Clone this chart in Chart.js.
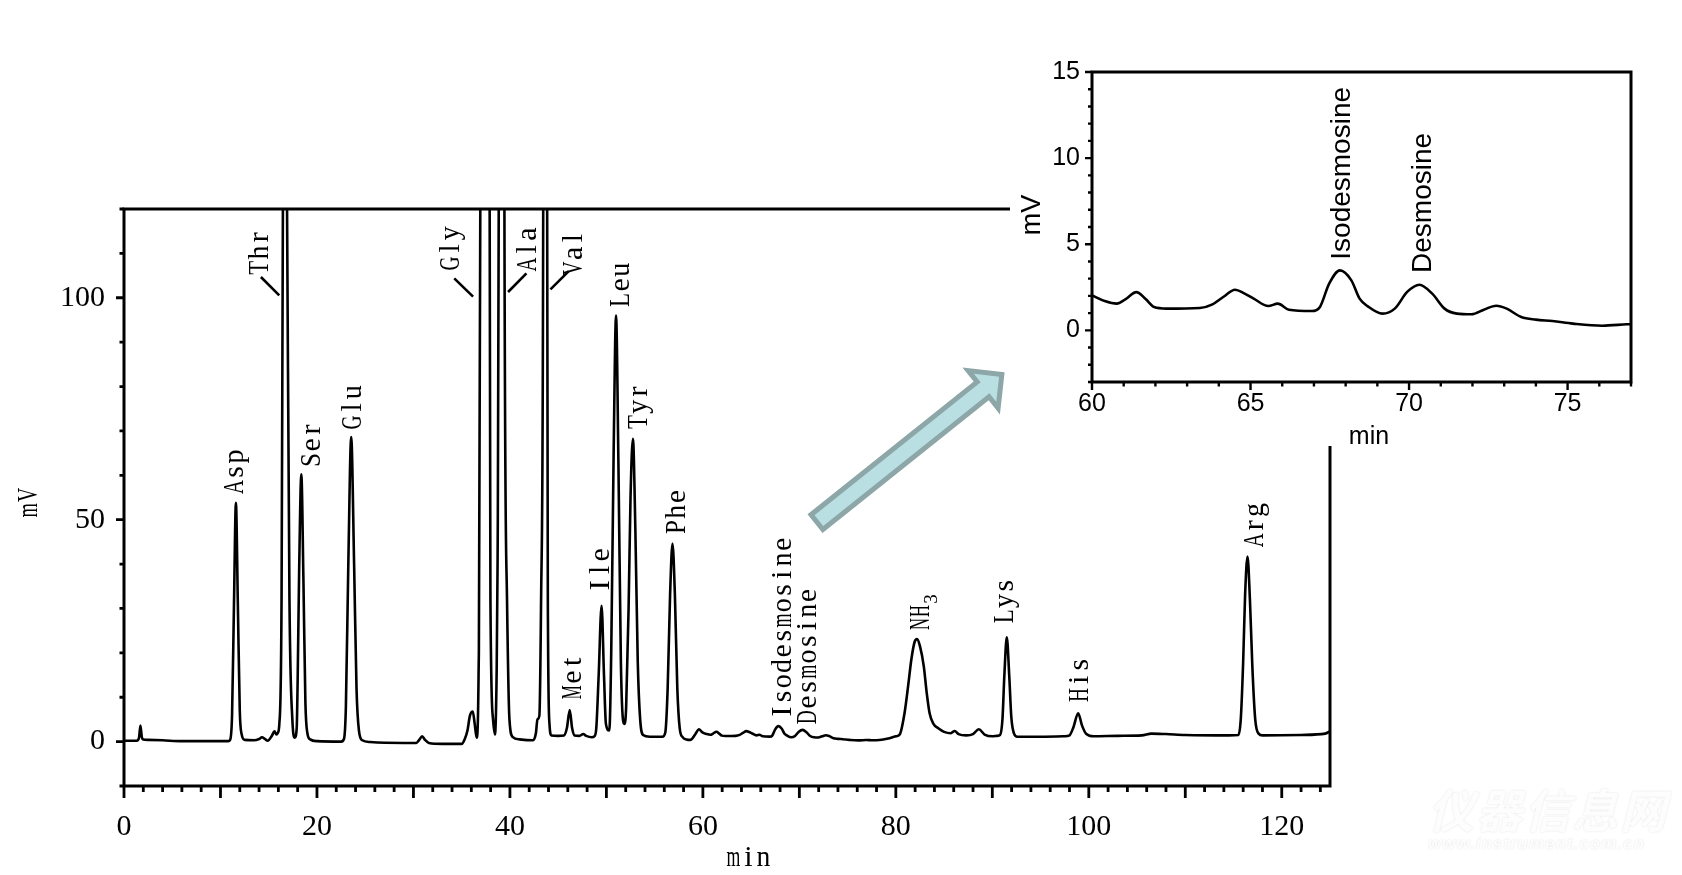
<!DOCTYPE html>
<html>
<head>
<meta charset="utf-8">
<title>Amino acid chromatogram</title>
<script src="https://cdn.jsdelivr.net/npm/chart.js@4.4.1/dist/chart.umd.min.js"></script>
<style>
  html, body { margin: 0; padding: 0; background: #fff; }
  #wrap { position: relative; width: 1682px; height: 875px; overflow: hidden; background: #fff; }
  #main { position: absolute; left: 0; top: 0; }
  #zoom { position: absolute; left: 1010px; top: 0; }
  #mark { position: absolute; left: 1428px; top: 782px; color: #fdfdfd;
          font: italic bold 46px "Noto Sans CJK SC", sans-serif; letter-spacing: 2px;
          text-shadow: 0 0 2px rgba(0,0,0,0.13); line-height: 52px; }
  #mark small { display: block; font: italic bold 17px "Liberation Sans", sans-serif;
                letter-spacing: 1px; line-height: 20px; }
</style>
</head>
<body>
<div id="wrap">
  <canvas id="main" width="1682" height="875"></canvas>
  <div id="mark">仪器信息网<small>www.instrument.com.cn</small></div>
  <canvas id="zoom" width="672" height="446"></canvas>
</div>
<script>
// chromatogram: [min, mV]
const traceStart = [
  [0, 0.2], [1.3, 0.2], [1.55, 0.8], [1.7, 3.6], [1.85, 1.0], [2.0, 0.5], [2.5, 0.4], [4.0, 0.3], [6.0, 0.1], [10.8, 0.1],
  [11.0, 0.4], [11.2, 6], [11.4, 31], [11.6, 53.8], [11.8, 31], [12.0, 7], [12.2, 1.6], [12.5, 0.4], [13.5, 0.3],
  [14.0, 0.6], [14.3, 1.0], [14.6, 0.6], [14.9, 0.2], [15.3, 1.2], [15.6, 2.3], [15.8, 1.6], [15.95, 2.0],
  [16.1, 4], [16.33, 32], [16.47, 120], [16.68, 185], [16.9, 120], [17.15, 32], [17.45, 5], [17.7, 0.9],
  [17.9, 3], [18.0, 14], [18.15, 38], [18.38, 60.2], [18.6, 36], [18.8, 9], [19.0, 2], [19.3, 0.5], [20.0, 0.1], [22.5, 0.0],
  [22.8, 0.6], [23.0, 8], [23.25, 40], [23.55, 68.6], [23.85, 40], [24.1, 12], [24.35, 2.5], [24.7, 0.3], [25.5, -0.1],
  [29.0, -0.3], [30.3, -0.3], [30.6, 0.4], [30.9, 1.2], [31.2, 0.4], [31.6, -0.3], [33.0, -0.5], [35.0, -0.5],
  [35.3, 0.5], [35.6, 2.5], [35.85, 5.8], [36.15, 6.8], [36.35, 4], [36.55, 0.9], [36.75, 15], [36.93, 120], [37.4, 1500],
  [37.9, 120], [37.98, 32], [38.25, 5], [38.45, 1.6], [38.62, 15], [38.72, 40], [38.84, 120], [39.14, 800], [39.43, 120],
  [39.7, 32], [39.95, 5], [40.3, 1.0], [41.0, 0.5], [42.4, 0.3], [42.7, 2], [42.85, 5.0], [43.05, 5.8],
  [43.23, 32], [43.45, 120], [43.65, 600], [43.86, 120], [43.93, 32], [44.1, 4], [44.3, 1.4], [45.0, 1.3], [45.6, 1.4],
  [45.9, 3], [46.2, 7.1], [46.45, 3], [46.7, 1.4], [47.2, 1.3], [47.6, 1.7], [47.9, 1.3], [48.5, 1.0], [48.75, 1.2],
  [48.95, 3], [49.2, 15], [49.5, 30.6], [49.75, 15], [49.95, 4], [50.3, 2.5], [50.5, 20], [50.75, 65], [51.0, 96],
  [51.25, 62], [51.5, 18], [51.75, 4.5], [51.9, 4.0], [52.05, 8], [52.3, 30], [52.5, 55], [52.75, 68.2], [53.0, 48],
  [53.25, 18], [53.5, 5], [53.8, 1.5], [54.5, 1.1], [55.8, 1.1],
  [56.1, 2], [56.35, 12], [56.6, 33], [56.85, 44.6], [57.1, 33], [57.35, 12], [57.6, 3], [57.9, 1.0], [58.3, 0.5],
  [58.7, 0.4], [59.2, 1.6], [59.6, 2.8], [59.85, 2.3]
];

// 60-77 min, also drawn enlarged in the inset
const traceZoom = [
  [60.0, 2.03], [60.4, 1.7], [60.78, 1.55], [61.05, 1.8], [61.4, 2.22], [61.7, 1.8], [61.96, 1.35], [62.35, 1.26],
  [63.4, 1.30], [63.8, 1.51], [64.15, 1.95], [64.51, 2.36], [64.8, 2.15], [65.1, 1.84], [65.56, 1.41], [65.86, 1.55],
  [66.21, 1.2], [66.93, 1.12], [67.19, 1.36], [67.48, 2.71], [67.82, 3.48], [68.18, 2.9], [68.44, 1.84], [68.7, 1.39],
  [69.16, 0.97], [69.55, 1.26], [69.94, 2.23], [70.33, 2.65], [70.73, 2.13], [71.12, 1.26], [71.51, 0.97], [71.97, 0.93],
  [72.36, 1.2], [72.75, 1.43], [73.08, 1.26], [73.54, 0.77], [74.0, 0.62], [74.52, 0.54], [75.17, 0.39], [76.09, 0.27],
  [76.87, 0.35], [77.0, 0.36]
];

const traceEnd = [
  [77.5, 0.3], [78.3, 0.35], [79.2, 0.7], [80.0, 1.2], [80.4, 1.6], [80.9, 6.4], [81.3, 13], [81.6, 18.4], [81.95, 22.5],
  [82.2, 23.1], [82.5, 21.5], [82.9, 16.9], [83.2, 11], [83.5, 6.4], [83.9, 4.0], [84.4, 3.0], [85.0, 2.2], [85.7, 1.9],
  [86.1, 2.4], [86.5, 1.7], [87.3, 1.4], [88.0, 1.7], [88.6, 2.8], [89.2, 1.6], [90.0, 1.2], [90.5, 1.3], [90.8, 1.5],
  [91.05, 5], [91.25, 15], [91.5, 23.5], [91.75, 15], [91.97, 5.5], [92.25, 1.8], [92.6, 1.1], [95.0, 1.1], [97.5, 1.2],
  [98.0, 1.4], [98.4, 3.2], [98.9, 6.4], [99.3, 3.6], [99.75, 1.7], [100.5, 1.2], [103.0, 1.3], [105.5, 1.4], [106.5, 1.8],
  [108.0, 1.7], [110.0, 1.5], [114.5, 1.4], [115.5, 1.5], [115.75, 5], [116.0, 18], [116.2, 33], [116.45, 41.7],
  [116.7, 32], [116.95, 17], [117.25, 5], [117.6, 1.8], [118.0, 1.4], [122.0, 1.5], [124.5, 1.8], [125.0, 2.3]
];

const mainXTicks = [0, 20, 40, 60, 80, 100, 120];
const mainYTicks = [0, 50, 100];
const zoomXTicks = [60, 65, 70, 75];
const zoomYTicks = [0, 5, 10, 15];

// peak labels: text start (min, mV) in main chart
const peakNames = ['Asp', 'Thr', 'Ser', 'Glu', 'Gly', 'Ala', 'Val', 'Met', 'Ile', 'Leu', 'Tyr', 'Phe',
                   'Isodesmosine', 'Desmosine', 'NH3', 'Lys', 'His', 'Arg'];
const peakLabelTime = [12.35, 14.92, 20.32, 24.57, 34.68, 42.75, 47.42, 47.32, 50.23, 52.31, 54.25, 58.12,
                       69.13, 71.73, 83.43, 92.16, 99.88, 118.02];
const peakLabelLevel = [55.65, 105.05, 61.74, 70.16, 106.0, 105.8, 104.9, 9.41, 33.54, 97.77, 70.31, 46.63,
                        5.05, 3.77, 25.04, 26.55, 8.8, 43.63];
// leader lines for the off-scale peaks (Thr, Gly, Ala, Val)
const leaderFrom = [[14.19, 104.67], [34.23, 104.38], [41.71, 105.5], [46.1, 106.0]];
const leaderTo = [[16.09, 100.54], [36.18, 100.25], [39.81, 101.3], [44.2, 101.9]];

const zoomNames = ['Isodesmosine', 'Desmosine'];
const zoomLabelTime = [68.13, 70.68];
const zoomLabelLevel = [4.1, 3.33];

// arrow from main chart toward the inset (min, mV)
const arrowTail = [71.62, 49.1];
const arrowTip = [91.28, 83.24];

const toPoints = arr => arr.map(p => ({ x: p[0], y: p[1] }));

// draws text with each character in a fixed cell, like the half-width font of the original
function monoText(ctx, str, x, y, cell, rotate) {
  ctx.save();
  ctx.translate(x, y);
  if (rotate) ctx.rotate(-Math.PI / 2);
  ctx.textAlign = 'center';
  ctx.textBaseline = 'alphabetic';
  for (let i = 0; i < str.length; i++) {
    const w = ctx.measureText(str[i]).width;
    const sx = w > cell * 0.92 ? cell * 0.92 / w : 1;
    ctx.save();
    ctx.translate(cell * (i + 0.5), 0);
    ctx.scale(sx, 1);
    ctx.fillText(str[i], 0, 0);
    ctx.restore();
  }
  ctx.restore();
}

function drawFrameAndTicks(chart, o) {
  const { ctx, chartArea: a, scales: { x, y } } = chart;
  ctx.save();
  ctx.strokeStyle = '#000';
  ctx.lineWidth = o.tickWidth;
  ctx.beginPath();
  for (let v = o.xMin; v <= o.xMax + 1e-9; v += o.xMinor) {
    const px = x.getPixelForValue(v);
    const major = Math.abs(v / o.xMajor - Math.round(v / o.xMajor)) < 1e-6;
    ctx.moveTo(px, a.bottom);
    ctx.lineTo(px, a.bottom + (major ? o.xLong : o.xShort));
  }
  for (let v = o.yMin; v <= o.yMax + 1e-9; v += o.yMinor) {
    const py = y.getPixelForValue(v);
    const major = Math.abs(v / o.yMajor - Math.round(v / o.yMajor)) < 1e-6;
    ctx.moveTo(a.left, py);
    ctx.lineTo(a.left - (major ? o.yLong : o.yShort), py);
  }
  ctx.stroke();
  ctx.lineWidth = o.frame;
  ctx.lineJoin = 'miter';
  ctx.strokeRect(a.left, a.top, a.right - a.left, a.bottom - a.top);
  ctx.restore();
}

function drawArrow(ctx, x0, y0, x1, y1) {
  const L = Math.hypot(x1 - x0, y1 - y0);
  const ux = (x1 - x0) / L, uy = (y1 - y0) / L, nx = -uy, ny = ux;
  const tx = x0 + ux * 2.5, ty = y0 + uy * 2.5;
  const hx = x1 - ux * 3.6, hy = y1 - uy * 3.6;
  const shaft = 9.5, head = 24, headLen = 24;
  const bx = hx - ux * headLen, by = hy - uy * headLen;
  ctx.save();
  ctx.beginPath();
  ctx.moveTo(tx + nx * shaft, ty + ny * shaft);
  ctx.lineTo(bx + nx * shaft, by + ny * shaft);
  ctx.lineTo(bx + nx * head, by + ny * head);
  ctx.lineTo(hx, hy);
  ctx.lineTo(bx - nx * head, by - ny * head);
  ctx.lineTo(bx - nx * shaft, by - ny * shaft);
  ctx.lineTo(tx - nx * shaft, ty - ny * shaft);
  ctx.closePath();
  ctx.fillStyle = '#badfe3';
  ctx.fill();
  ctx.lineWidth = 5;
  ctx.lineJoin = 'miter';
  ctx.strokeStyle = '#8da6a8';
  ctx.stroke();
  ctx.restore();
}

const mainDecor = {
  id: 'mainDecor',
  afterDraw(chart) {
    const { ctx, chartArea: a, scales: { x, y } } = chart;
    drawFrameAndTicks(chart, {
      xMin: 0, xMax: 124, xMinor: 2, xMajor: 10, xLong: 12, xShort: 6,
      yMin: -10, yMax: 120, yMinor: 10, yMajor: 50, yLong: 8, yShort: 4.5,
      frame: 3, tickWidth: 2.8
    });
    ctx.save();
    ctx.fillStyle = '#000';
    ctx.font = '30px "Liberation Serif"';
    peakNames.forEach((name, i) => {
      const px = x.getPixelForValue(peakLabelTime[i]);
      const py = y.getPixelForValue(peakLabelLevel[i]);
      if (name === 'NH3') {
        monoText(ctx, 'NH', px, py, 13, true);
        ctx.save();
        ctx.font = '19px "Liberation Serif"';
        monoText(ctx, '3', px + 8, py - 26, 11, true);
        ctx.restore();
      } else {
        monoText(ctx, name, px, py, 15.2, true);
      }
    });
    ctx.strokeStyle = '#000';
    ctx.lineWidth = 2.6;
    ctx.beginPath();
    leaderFrom.forEach((p, i) => {
      ctx.moveTo(x.getPixelForValue(p[0]), y.getPixelForValue(p[1]));
      ctx.lineTo(x.getPixelForValue(leaderTo[i][0]), y.getPixelForValue(leaderTo[i][1]));
    });
    ctx.stroke();
    // axis titles
    monoText(ctx, 'min', a.left + 602, a.bottom + 80, 15, false);
    monoText(ctx, 'mV', 37, a.bottom - 268, 15.5, true);
    ctx.restore();
    drawArrow(ctx, x.getPixelForValue(arrowTail[0]), y.getPixelForValue(arrowTail[1]),
              x.getPixelForValue(arrowTip[0]), y.getPixelForValue(arrowTip[1]));
  }
};

new Chart(document.getElementById('main'), {
  type: 'line',
  data: {
    datasets: [{
      data: toPoints(traceStart.concat(traceZoom, traceEnd)),
      borderColor: '#000',
      borderWidth: 2.6,
      pointRadius: 0,
      cubicInterpolationMode: 'monotone',
      clip: 0
    }]
  },
  options: {
    responsive: false,
    animation: false,
    devicePixelRatio: 1,
    layout: { padding: { top: 209, right: 352, left: 0, bottom: 0 } },
    plugins: { legend: { display: false }, tooltip: { enabled: false } },
    scales: {
      x: {
        type: 'linear', min: 0, max: 125,
        afterBuildTicks: s => { s.ticks = mainXTicks.map(v => ({ value: v })); },
        afterFit: s => { s.height = 89; },
        grid: { display: false, drawTicks: false },
        border: { display: false },
        ticks: { color: '#000', padding: 23, maxRotation: 0, font: { family: 'Liberation Serif', size: 30 } }
      },
      y: {
        type: 'linear', min: -10, max: 120,
        afterBuildTicks: s => { s.ticks = mainYTicks.map(v => ({ value: v })); },
        afterFit: s => { s.width = 124; },
        grid: { display: false, drawTicks: false },
        border: { display: false },
        ticks: { color: '#000', padding: 19, font: { family: 'Liberation Serif', size: 30 } }
      }
    }
  },
  plugins: [mainDecor]
});

const zoomDecor = {
  id: 'zoomDecor',
  beforeDraw(chart) {
    const { ctx, width, height } = chart;
    ctx.save();
    ctx.fillStyle = '#fff';
    ctx.fillRect(0, 0, width, height);
    ctx.restore();
  },
  afterDraw(chart) {
    const { ctx, chartArea: a, scales: { x, y } } = chart;
    drawFrameAndTicks(chart, {
      xMin: 60, xMax: 77, xMinor: 1, xMajor: 5, xLong: 8, xShort: 4.5,
      yMin: -3, yMax: 15, yMinor: 1, yMajor: 5, yLong: 7, yShort: 4,
      frame: 3, tickWidth: 2.4
    });
    ctx.save();
    ctx.fillStyle = '#000';
    ctx.font = '28px "Liberation Sans"';
    ctx.textAlign = 'left';
    ctx.textBaseline = 'alphabetic';
    zoomNames.forEach((name, i) => {
      ctx.save();
      ctx.translate(x.getPixelForValue(zoomLabelTime[i]), y.getPixelForValue(zoomLabelLevel[i]));
      ctx.rotate(-Math.PI / 2);
      ctx.fillText(name, 0, 0);
      ctx.restore();
    });
    ctx.font = '25px "Liberation Sans"';
    ctx.textAlign = 'center';
    ctx.textBaseline = 'middle';
    ctx.fillText('min', a.left + 277, a.bottom + 55);
    ctx.save();
    ctx.translate(23, 215);
    ctx.rotate(-Math.PI / 2);
    ctx.font = '27px "Liberation Sans"';
    ctx.fillText('mV', 0, 0);
    ctx.restore();
    ctx.restore();
  }
};

new Chart(document.getElementById('zoom'), {
  type: 'line',
  data: {
    datasets: [{
      data: toPoints(traceZoom),
      borderColor: '#000',
      borderWidth: 2.6,
      pointRadius: 0,
      cubicInterpolationMode: 'monotone',
      clip: 0
    }]
  },
  options: {
    responsive: false,
    animation: false,
    devicePixelRatio: 1,
    layout: { padding: { top: 72, right: 51, left: 0, bottom: 0 } },
    plugins: { legend: { display: false }, tooltip: { enabled: false } },
    scales: {
      x: {
        type: 'linear', min: 60, max: 77,
        afterBuildTicks: s => { s.ticks = zoomXTicks.map(v => ({ value: v })); },
        afterFit: s => { s.height = 64; },
        grid: { display: false, drawTicks: false },
        border: { display: false },
        ticks: { color: '#000', padding: 7, maxRotation: 0, font: { family: 'Liberation Sans', size: 25 } }
      },
      y: {
        type: 'linear', min: -3, max: 15,
        afterBuildTicks: s => { s.ticks = zoomYTicks.map(v => ({ value: v })); },
        afterFit: s => { s.width = 82; },
        grid: { display: false, drawTicks: false },
        border: { display: false },
        ticks: { color: '#000', padding: 12, font: { family: 'Liberation Sans', size: 25 } }
      }
    }
  },
  plugins: [zoomDecor]
});
</script>
</body>
</html>
